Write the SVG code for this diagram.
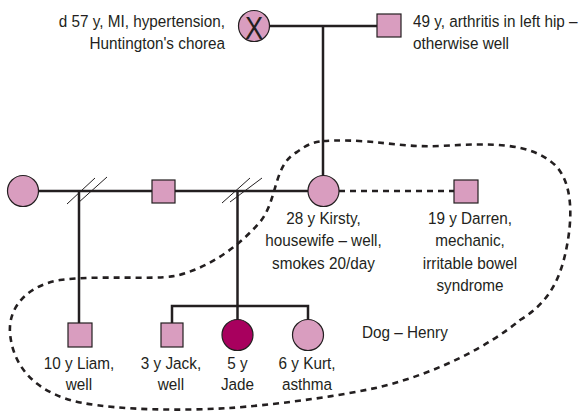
<svg xmlns="http://www.w3.org/2000/svg" width="580" height="411" viewBox="0 0 580 411">
  <style>
    .line { fill: none; stroke: #231f20; stroke-width: 2.5; }
    .dash { fill: none; stroke: #231f20; stroke-width: 2.6; stroke-dasharray: 6 5; }
    .thin { fill: none; stroke: #231f20; stroke-width: 1; }
    .node { fill: #d99dbf; stroke: #231f20; stroke-width: 1.2; }
    .affected { fill: #a8005e; stroke: #231f20; stroke-width: 1.2; }
    .lbl { font-family: "Liberation Sans", Arial, sans-serif; font-size: 17px; fill: #231f20; }
    .mid { text-anchor: middle; }
    .end { text-anchor: end; }
  </style>

  <!-- household boundary -->
  <path id="household" class="dash" d="M 323,141 C 370,138 400,148 440,146 C 490,143 530,142 555,165 C 575,185 572,225 565,255 C 558,285 545,305 520,320 C 490,345 440,372 380,387 C 330,398 270,405 230,408 C 180,411 120,410 83,403 C 40,395 13,370 10,333 C 8,305 30,285 60,280 C 100,275 150,280 175,276 C 210,268 240,245 260,222 C 278,200 273,165 297,152 C 305,146 312,142 323,141 Z"/>

  <g id="connectors">
    <path class="line" d="M 269,26 H 377"/>
    <path class="line" d="M 323,26 V 176"/>
    <path class="line" d="M 38,191 H 152"/>
    <path class="line" d="M 175,191 H 308"/>
    <path class="dash" d="M 339,191 H 454"/>
    <path class="line" d="M 79,191 V 323"/>
    <path class="line" d="M 237.5,191 V 320"/>
    <path class="line" d="M 172,323 V 306 H 308 V 320"/>
    <!-- separation marks -->
    <path class="thin" d="M 67,204 L 95,178 M 78,203 L 107,177"/>
    <path class="thin" d="M 222,203 L 250,178 M 230,202 L 262,178"/>
  </g>

  <g id="grandmother">
    <circle class="node" cx="254" cy="26" r="15.5"/>
    <text class="lbl mid" transform="translate(254,38.5) scale(0.85,1)" style="font-size:32px">X</text>
    <text class="lbl end" transform="translate(225,27) scale(0.9,1)"><tspan x="0">d 57 y, MI, hypertension,</tspan><tspan x="0" dy="22.5">Huntington's chorea</tspan></text>
  </g>

  <g id="grandfather">
    <rect class="node" x="377" y="14" width="24" height="23"/>
    <text class="lbl" transform="translate(413,27) scale(0.9,1)"><tspan x="0">49 y, arthritis in left hip –</tspan><tspan x="0" dy="22.5">otherwise well</tspan></text>
  </g>

  <g id="first-partner">
    <circle class="node" cx="23" cy="191" r="15.5"/>
  </g>

  <g id="second-partner">
    <rect class="node" x="152" y="180" width="23" height="23"/>
  </g>

  <g id="kirsty">
    <circle class="node" cx="323.5" cy="191" r="15.5"/>
    <text class="lbl mid" transform="translate(323.5,224) scale(0.9,1)"><tspan x="0">28 y Kirsty,</tspan><tspan x="0" dy="22.5">housewife – well,</tspan><tspan x="0" dy="22.5">smokes 20/day</tspan></text>
  </g>

  <g id="darren">
    <rect class="node" x="454" y="180" width="24" height="23"/>
    <text class="lbl mid" transform="translate(470,224) scale(0.9,1)"><tspan x="0">19 y Darren,</tspan><tspan x="0" dy="22.5">mechanic,</tspan><tspan x="0" dy="22.5">irritable bowel</tspan><tspan x="0" dy="22.5">syndrome</tspan></text>
  </g>

  <g id="liam">
    <rect class="node" x="68" y="323" width="24" height="24"/>
    <text class="lbl mid" transform="translate(79,369) scale(0.9,1)"><tspan x="0">10 y Liam,</tspan><tspan x="0" dy="21">well</tspan></text>
  </g>

  <g id="jack">
    <rect class="node" x="161" y="323" width="22" height="24"/>
    <text class="lbl mid" transform="translate(171,369) scale(0.9,1)"><tspan x="0">3 y Jack,</tspan><tspan x="0" dy="21">well</tspan></text>
  </g>

  <g id="jade">
    <circle class="affected" cx="237.5" cy="335" r="15.5"/>
    <text class="lbl mid" transform="translate(237.5,369) scale(0.9,1)"><tspan x="0">5 y</tspan><tspan x="0" dy="21">Jade</tspan></text>
  </g>

  <g id="kurt">
    <circle class="node" cx="308" cy="335" r="15.5"/>
    <text class="lbl mid" transform="translate(307,369) scale(0.9,1)"><tspan x="0">6 y Kurt,</tspan><tspan x="0" dy="21">asthma</tspan></text>
  </g>

  <g id="dog">
    <text class="lbl" transform="translate(362,338) scale(0.9,1)">Dog – Henry</text>
  </g>
</svg>
